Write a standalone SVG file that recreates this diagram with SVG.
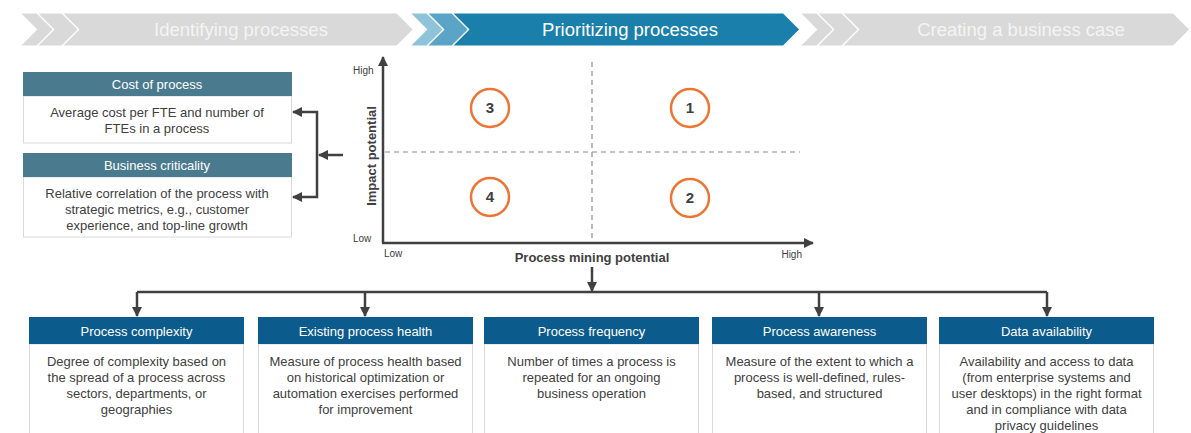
<svg xmlns="http://www.w3.org/2000/svg" width="1191" height="433" viewBox="0 0 1191 433">
  <style>
    text { font-family: "Liberation Sans", Arial, sans-serif; }
    .stage { font-size: 18.5px; text-anchor: middle; }
    .hdr { font-size: 13px; fill: #ffffff; text-anchor: middle; }
    .body { font-size: 13px; fill: #404040; text-anchor: middle; }
    .tick { font-size: 10px; fill: #404040; }
    .axis-title { font-size: 13px; font-weight: bold; fill: #404040; text-anchor: middle; }
    .num { font-size: 15px; font-weight: bold; fill: #404040; text-anchor: middle; }
    .chev { stroke: #ffffff; stroke-width: 1.2; }
    .box { fill: #ffffff; stroke: #d9d9d9; stroke-width: 1; }
    .hdr-teal { fill: #4a7a8d; }
    .hdr-blue { fill: #0b5b8c; }
    .link { fill: none; stroke: #404040; stroke-width: 2.5; }
    .axis { fill: none; stroke: #404040; stroke-width: 2.5; }
    .dash { fill: none; stroke: #8c8c8c; stroke-width: 1.2; stroke-dasharray: 5 4; }
    .ring { fill: #ffffff; stroke: #ed7433; stroke-width: 2.5; }
  </style>
  <defs>
    <marker id="arrow" viewBox="0 0 10 10" refX="9" refY="5" markerWidth="10" markerHeight="10" markerUnits="userSpaceOnUse" orient="auto">
      <path d="M0,0 L10,5 L0,10 z" fill="#404040"/>
    </marker>
  </defs>

  <!-- Phase banner -->
  <g id="phase-identifying">
    <polygon class="chev" fill="#d9d9d9" points="62,13 397,13 413.5,29.5 397,46 62,46 78.5,29.5"/>
    <polygon class="chev" fill="#d9d9d9" points="37,13 62,13 78.5,29.5 62,46 37,46 53.5,29.5"/>
    <polygon class="chev" fill="#d9d9d9" points="20,13 37,13 53.5,29.5 37,46 20,46 36.5,29.5"/>
    <text class="stage" x="241" y="36" fill="#f4f4f4">Identifying processes</text>
  </g>
  <g id="phase-prioritizing">
    <polygon class="chev" fill="#1b7fac" points="452,13 783.5,13 800,29.5 783.5,46 452,46 468.5,29.5"/>
    <polygon class="chev" fill="#5aa4c7" points="427,13 452,13 468.5,29.5 452,46 427,46 443.5,29.5"/>
    <polygon class="chev" fill="#8fc3da" points="410,13 427,13 443.5,29.5 427,46 410,46 426.5,29.5"/>
    <text class="stage" x="630" y="36" fill="#ffffff">Prioritizing processes</text>
  </g>
  <g id="phase-business-case">
    <polygon class="chev" fill="#d9d9d9" points="842,13 1173.5,13 1190,29.5 1173.5,46 842,46 858.5,29.5"/>
    <polygon class="chev" fill="#d9d9d9" points="817,13 842,13 858.5,29.5 842,46 817,46 833.5,29.5"/>
    <polygon class="chev" fill="#d9d9d9" points="800,13 817,13 833.5,29.5 817,46 800,46 816.5,29.5"/>
    <text class="stage" x="1021" y="36" fill="#f4f4f4">Creating a business case</text>
  </g>

  <!-- Impact criteria -->
  <g id="cost-of-process">
    <rect class="box" x="23.5" y="96" width="268" height="47"/>
    <rect class="hdr-teal" x="23" y="72" width="269" height="24"/>
    <text class="hdr" x="157" y="88.5">Cost of process</text>
    <text class="body" x="157" y="117">Average cost per FTE and number of</text>
    <text class="body" x="157" y="133">FTEs in a process</text>
  </g>
  <g id="business-criticality">
    <rect class="box" x="23.5" y="177" width="268" height="60"/>
    <rect class="hdr-teal" x="23" y="153" width="269" height="24"/>
    <text class="hdr" x="157" y="169.5">Business criticality</text>
    <text class="body" x="157" y="197.5">Relative correlation of the process with</text>
    <text class="body" x="157" y="213.5">strategic metrics, e.g., customer</text>
    <text class="body" x="157" y="229.5">experience, and top-line growth</text>
  </g>

  <!-- Prioritization matrix -->
  <g id="matrix">
    <line class="dash" x1="592" y1="62" x2="592" y2="240"/>
    <line class="dash" x1="385" y1="152" x2="800" y2="152"/>
    <path class="axis" d="M383,243 V57" marker-end="url(#arrow)"/>
    <path class="axis" d="M382,243 H813" marker-end="url(#arrow)"/>
    <text class="tick" x="353" y="74">High</text>
    <text class="tick" x="353" y="242">Low</text>
    <text class="tick" x="384" y="257">Low</text>
    <text class="tick" x="802" y="258" text-anchor="end">High</text>
    <text class="axis-title" transform="translate(376,156) rotate(-90)">Impact potential</text>
    <text class="axis-title" x="592" y="262">Process mining potential</text>
  </g>
  <g id="quadrant-3">
    <circle class="ring" cx="490" cy="108" r="19"/>
    <text class="num" x="490" y="113">3</text>
  </g>
  <g id="quadrant-1">
    <circle class="ring" cx="690" cy="108" r="19"/>
    <text class="num" x="690" y="113">1</text>
  </g>
  <g id="quadrant-4">
    <circle class="ring" cx="490" cy="197" r="19"/>
    <text class="num" x="490" y="202">4</text>
  </g>
  <g id="quadrant-2">
    <circle class="ring" cx="690" cy="198" r="19"/>
    <text class="num" x="690" y="203">2</text>
  </g>

  <!-- Process mining criteria -->
  <g id="process-complexity">
    <rect class="box" x="29.5" y="344" width="214" height="100"/>
    <rect class="hdr-blue" x="29" y="317" width="215" height="27"/>
    <text class="hdr" x="136.5" y="335.5">Process complexity</text>
    <text class="body" x="136.5" y="366">Degree of complexity based on</text>
    <text class="body" x="136.5" y="382">the spread of a process across</text>
    <text class="body" x="136.5" y="398">sectors, departments, or</text>
    <text class="body" x="136.5" y="414">geographies</text>
  </g>
  <g id="existing-process-health">
    <rect class="box" x="258.5" y="344" width="214" height="100"/>
    <rect class="hdr-blue" x="258" y="317" width="215" height="27"/>
    <text class="hdr" x="365.5" y="335.5">Existing process health</text>
    <text class="body" x="365.5" y="366">Measure of process health based</text>
    <text class="body" x="365.5" y="382">on historical optimization or</text>
    <text class="body" x="365.5" y="398">automation exercises performed</text>
    <text class="body" x="365.5" y="414">for improvement</text>
  </g>
  <g id="process-frequency">
    <rect class="box" x="484.5" y="344" width="214" height="100"/>
    <rect class="hdr-blue" x="484" y="317" width="215" height="27"/>
    <text class="hdr" x="591.5" y="335.5">Process frequency</text>
    <text class="body" x="591.5" y="366">Number of times a process is</text>
    <text class="body" x="591.5" y="382">repeated for an ongoing</text>
    <text class="body" x="591.5" y="398">business operation</text>
  </g>
  <g id="process-awareness">
    <rect class="box" x="712.5" y="344" width="214" height="100"/>
    <rect class="hdr-blue" x="712" y="317" width="215" height="27"/>
    <text class="hdr" x="819.5" y="335.5">Process awareness</text>
    <text class="body" x="819.5" y="366">Measure of the extent to which a</text>
    <text class="body" x="819.5" y="382">process is well-defined, rules-</text>
    <text class="body" x="819.5" y="398">based, and structured</text>
  </g>
  <g id="data-availability">
    <rect class="box" x="939.5" y="344" width="214" height="100"/>
    <rect class="hdr-blue" x="939" y="317" width="215" height="27"/>
    <text class="hdr" x="1046.5" y="335.5">Data availability</text>
    <text class="body" x="1046.5" y="366">Availability and access to data</text>
    <text class="body" x="1046.5" y="382">(from enterprise systems and</text>
    <text class="body" x="1046.5" y="398">user desktops) in the right format</text>
    <text class="body" x="1046.5" y="414">and in compliance with data</text>
    <text class="body" x="1046.5" y="430">privacy guidelines</text>
  </g>

  <!-- Connectors -->
  <g id="connectors">
    <path class="link" d="M343,155 H319" marker-end="url(#arrow)"/>
    <path class="link" d="M317,155 V112 H293" marker-end="url(#arrow)"/>
    <path class="link" d="M317,155 V197 H293" marker-end="url(#arrow)"/>
    <path class="link" d="M592,267 V291" marker-end="url(#arrow)"/>
    <path class="link" d="M137,292 H1047"/>
    <path class="link" d="M137,292 V316" marker-end="url(#arrow)"/>
    <path class="link" d="M365,292 V316" marker-end="url(#arrow)"/>
    <path class="link" d="M819,292 V316" marker-end="url(#arrow)"/>
    <path class="link" d="M1047,292 V316" marker-end="url(#arrow)"/>
  </g>
</svg>
